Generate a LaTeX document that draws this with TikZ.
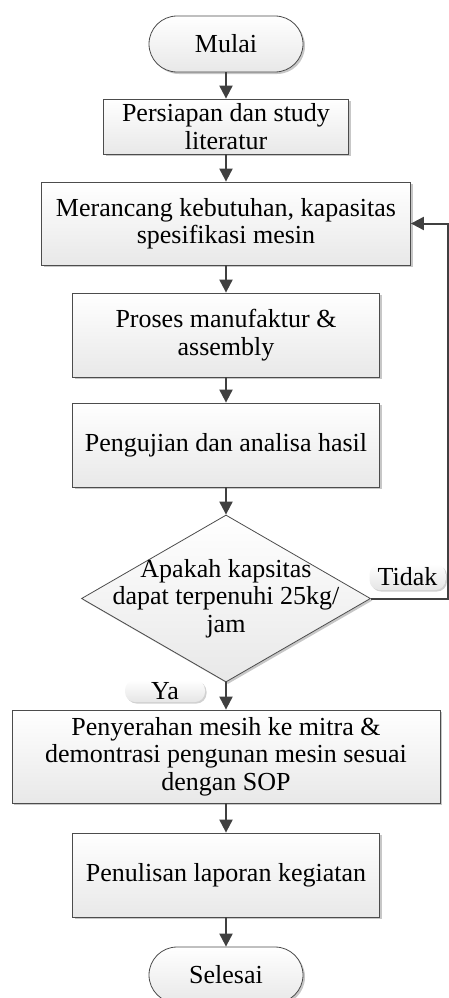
\documentclass[tikz,border=0pt]{standalone}
\usepackage{fontspec}
\setmainfont{Liberation Serif}
\usetikzlibrary{shapes.geometric,shadows,arrows.meta}
\begin{document}
\begin{tikzpicture}[x=1pt,y=-1pt,
  font=\fontsize{26}{27.5}\selectfont,
  base/.style={draw=black!70, line width=0.8pt, top color=white, bottom color=black!9,
    drop shadow={shadow xshift=2pt,shadow yshift=-2pt,fill=black!22,opacity=1},
    inner sep=0pt, align=center},
  procbox/.style={base, rectangle},
  term/.style={base, rectangle, rounded corners=28pt, minimum width=154pt, minimum height=56pt},
  decbox/.style={base, diamond, aspect=1.73},
  tag/.style={rectangle, rounded corners=10pt, top color=white, bottom color=black!10,
    drop shadow={shadow xshift=1.5pt,shadow yshift=-1.5pt,fill=black!18,opacity=1}, inner sep=0pt},
  arr/.style={draw=black!75, line width=2pt, -{Triangle[width=13pt,length=13pt]}},
]
\useasboundingbox (0,0) rectangle (448,998);

\node[term] (start) at (226,44) {Mulai};
\node[procbox, minimum width=245pt, minimum height=55pt] (prep) at (226,126.5) {Persiapan dan study\\literatur};
\node[procbox, minimum width=369pt, minimum height=83pt] (design) at (226,223.5) {Merancang kebutuhan, kapasitas\\spesifikasi mesin};
\node[procbox, minimum width=307pt, minimum height=84pt] (manuf) at (226,335) {Proses manufaktur \&\\assembly};
\node[procbox, minimum width=307pt, minimum height=84pt] (test) at (226,445) {Pengujian dan analisa hasil};
\node[decbox, minimum width=289pt, minimum height=167pt] (dec) at (226,598.5)
  {\smash{\raisebox{-7pt}{\makebox[0pt]{\begin{tabular}{@{}c@{}}Apakah kapsitas\\dapat terpenuhi 25kg/\\jam\end{tabular}}}}};
\node[procbox, minimum width=428pt, minimum height=93pt] (hand) at (226,756.5) {Penyerahan mesih ke mitra \&\\demontrasi pengunan mesin sesuai\\dengan SOP};
\node[procbox, minimum width=307pt, minimum height=84pt] (report) at (226,875) {Penulisan laporan kegiatan};
\node[term] (stop) at (226,975) {Selesai};

\node[tag, minimum width=76pt, minimum height=26pt] (tidak) at (407.5,577) {Tidak};
\node[tag, minimum width=80pt, minimum height=22pt] (ya) at (165,691) {Ya};

\coordinate (back) at (448.3,0);

\draw[arr] (start) -- (prep);
\draw[arr] (prep) -- (design);
\draw[arr] (design) -- (manuf);
\draw[arr] (manuf) -- (test);
\draw[arr] (test) -- (dec);
\draw[arr] (dec) -- (hand);
\draw[arr] (hand) -- (report);
\draw[arr] (report) -- (stop);
\draw[arr] (dec.east) -- (dec.east -| back) -- (design.east -| back) -- (design.east);
\end{tikzpicture}
\end{document}
